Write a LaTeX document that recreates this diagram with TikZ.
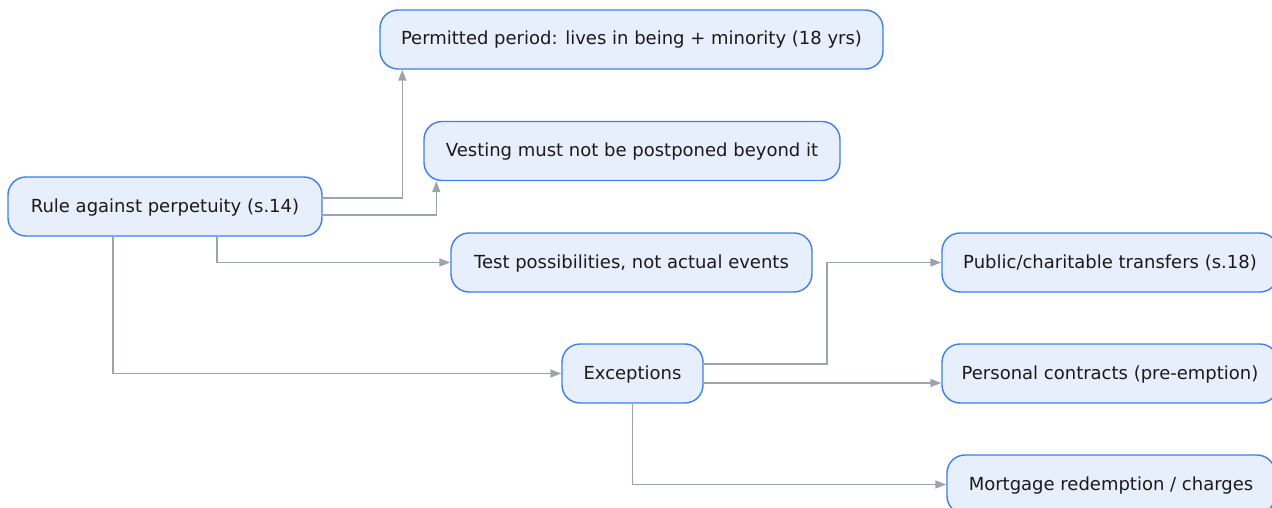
\documentclass[tikz,border=0pt]{standalone}
\usepackage{fontspec}
\setmainfont{DejaVu Sans}
\usetikzlibrary{arrows.meta}
\definecolor{nodefill}{HTML}{E8EFFC}
\definecolor{nodeline}{HTML}{3B80EC}
\definecolor{edgecol}{HTML}{9CA3AF}
\definecolor{txt}{HTML}{1A1A1A}
\begin{document}
\begin{tikzpicture}[x=1pt,y=-1pt,
  box/.style={draw=nodeline, fill=nodefill, line width=1.4pt, rounded corners=18pt,
    minimum height=59pt, inner sep=0pt, text=txt,
    font=\fontsize{18}{21}\selectfont, text height=14.6pt, text depth=3.6pt},
  link/.style={draw=edgecol, line width=1.6pt, -{Triangle[length=11pt,width=8pt]}}]
\useasboundingbox (0,0) rectangle (1272,508);
\begin{scope}
  \clip (0,0) rectangle (1272,508);
  % root and its direct consequences
  \node[box, minimum width=314pt] (rule) at (165,206.5) {Rule against perpetuity (s.14)};
  \node[box, minimum width=503pt] (perm) at (631.5,39.5) {Permitted period: lives in being + minority (18 yrs)};
  \node[box, minimum width=416pt] (vest) at (632,151) {Vesting must not be postponed beyond it};
  \node[box, minimum width=361pt] (test) at (631.5,262.5) {Test possibilities, not actual events};
  \node[box, minimum width=141pt] (exc) at (632.5,373.5) {Exceptions};
  % exceptions
  \node[box, minimum width=336pt] (pub) at (1110,262.5) {Public/charitable transfers (s.18)};
  \node[box, minimum width=336pt] (pers) at (1110,373.5) {Personal contracts (pre-emption)};
  \node[box, minimum width=328pt] (mort) at (1111,484.5) {Mortgage redemption / charges};

  % connectors
  \draw[link] ([yshift=8.5pt]rule.east) -| ([xshift=23pt]perm.south west);
  \draw[link] ([yshift=-8.5pt]rule.east) -| ([xshift=13pt]vest.south west);
  \draw[link] ([xshift=52pt]rule.south) |- (test.west);
  \draw[link] ([xshift=-52pt]rule.south) |- (exc.west);
  \draw[link] ([yshift=9.5pt]exc.east) -- ++(123,0) |- (pub.west);
  \draw[link] ([yshift=-9.5pt]exc.east) -- ([yshift=-9.5pt]pers.west);
  \draw[link] (exc.south) |- (mort.west);
\end{scope}
\end{tikzpicture}
\end{document}
